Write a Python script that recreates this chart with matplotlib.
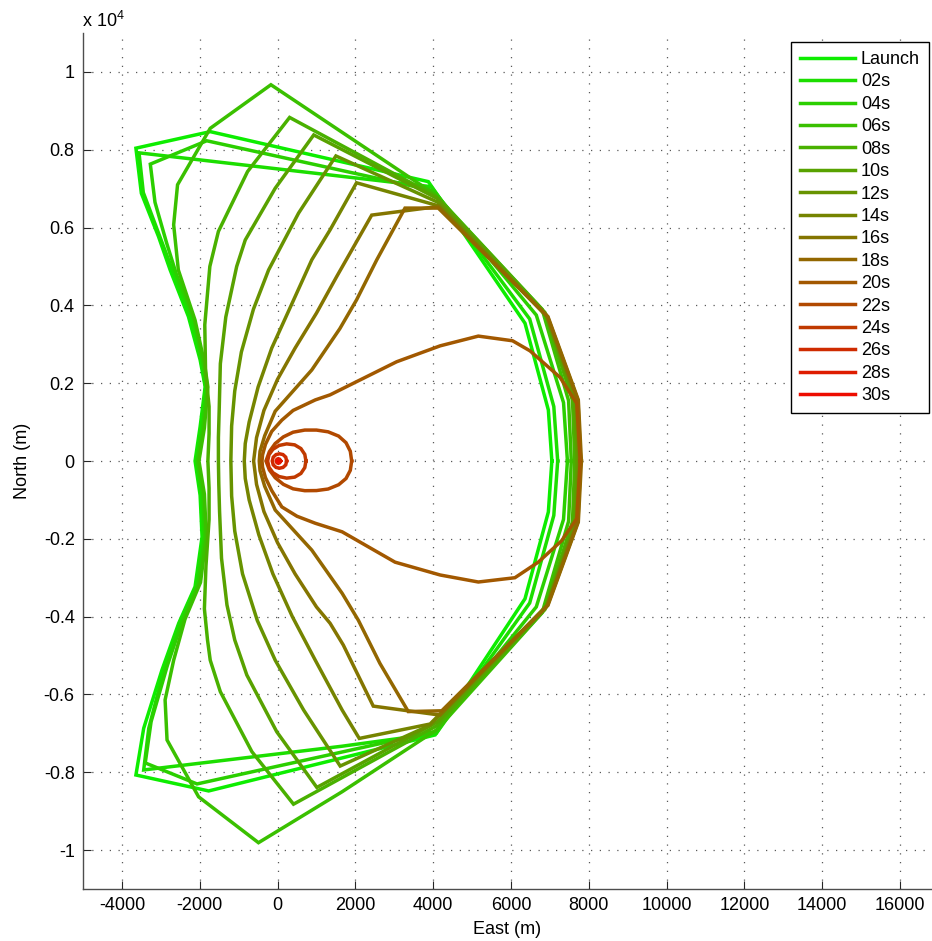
import matplotlib
matplotlib.use("Agg")
import matplotlib.pyplot as plt

plt.rcParams['font.family'] = ['Liberation Sans', 'DejaVu Sans']
plt.rcParams['mathtext.fontset'] = 'custom'
plt.rcParams['mathtext.rm'] = 'Liberation Sans'

# footprint outlines (East, North) in metres
launch = [(7050, 0), (6960, 1310), (6360, 3540), (3875, 7180), (-1730, 8465), (-3640, 8040),
          (-3500, 6880), (-3060, 5770), (-2760, 4910), (-2290, 3710), (-1990, 2600), (-1860, 1910),
          (-1990, 880), (-2120, 0), (-1990, -880), (-1940, -1950), (-2120, -3230), (-2540, -4170),
          (-2970, -5370), (-3440, -6870), (-3640, -8070), (-1770, -8480), (4050, -7040),
          (6360, -3540), (6960, -1310), (7050, 0)]
t02 = [(7200, 0), (7100, 1400), (6480, 3650), (3950, 7050), (-3560, 7920), (-3450, 6900),
       (-3000, 5700), (-2680, 4850), (-2230, 3680), (-1960, 2580), (-1850, 1900), (-1960, 860),
       (-2090, 0), (-1960, -860), (-1910, -1950), (-2090, -3210), (-2510, -4150), (-2900, -5300),
       (-3310, -6870), (-3440, -7940), (1660, -7330), (4080, -7000), (6480, -3650), (7100, -1400),
       (7200, 0)]
t04 = [(7450, 0), (7350, 1500), (6650, 3750), (4000, 6950), (-1820, 8230), (-3270, 7630),
       (-3150, 6650), (-2850, 5600), (-2600, 4800), (-2150, 3650), (-1920, 2550), (-1820, 1900),
       (-1920, 850), (-2060, 0), (-1920, -850), (-1870, -1950), (-2040, -3180), (-2450, -4120),
       (-2830, -5250), (-3250, -6700), (-3400, -7760), (-2070, -8300), (4060, -6950),
       (6650, -3750), (7350, -1500), (7450, 0)]
t06 = [(7550, 0), (7480, 1550), (6800, 3900), (4050, 6850), (-170, 9670), (-1730, 8550),
       (-2570, 7100), (-2670, 6070), (-2550, 4910), (-2120, 3620), (-1880, 2530), (-1790, 1900),
       (-1880, 850), (-2020, 0), (-1880, -850), (-1830, -1950), (-1980, -3120), (-2380, -4070),
       (-2670, -5120), (-2890, -6140), (-2840, -7170), (-2030, -8630), (-490, -9810),
       (1660, -8500), (4100, -6900), (6800, -3900), (7480, -1550), (7550, 0)]
t08 = [(7640, 0), (7580, 1560), (6870, 3820), (4080, 6800), (310, 8830), (-770, 7440),
       (-1520, 5900), (-1740, 5000), (-1870, 3500), (-1850, 2300), (-1760, 1400), (-1760, 700),
       (-1790, 0), (-1760, -700), (-1760, -1500), (-1840, -2700), (-1880, -3800), (-1800, -4600),
       (-1730, -5120), (-1470, -5930), (-660, -7470), (410, -8820), (4100, -6800), (6870, -3820),
       (7580, -1560), (7640, 0)]
t10 = [(7700, 0), (7640, 1560), (6900, 3760), (4100, 6750), (930, 8380), (-60, 7010),
       (-830, 5680), (-1050, 5000), (-1330, 3700), (-1470, 2500), (-1500, 1300), (-1520, 600),
       (-1520, 0), (-1510, -600), (-1490, -1300), (-1440, -2500), (-1300, -3700), (-1100, -4600),
       (-920, -5120), (-790, -5500), (-20, -6960), (1010, -8390), (4120, -6700), (6900, -3760),
       (7640, -1560), (7700, 0)]
t12 = [(7740, 0), (7680, 1560), (6920, 3720), (4120, 6650), (1500, 7840), (540, 6370),
       (-230, 4910), (-620, 3900), (-930, 2800), (-1100, 1800), (-1180, 900), (-1200, 0),
       (-1180, -900), (-1100, -1800), (-900, -2900), (-520, -4100), (-60, -5120), (670, -6400),
       (1610, -7840), (3920, -6790), (6920, -3720), (7680, -1560), (7740, 0)]
t14 = [(7770, 0), (7710, 1565), (6930, 3710), (4130, 6560), (2030, 7150), (1350, 5940),
       (880, 5170), (350, 4000), (-150, 2900), (-500, 1900), (-730, 1000), (-830, 450),
       (-855, 0), (-830, -450), (-730, -1000), (-480, -1900), (-120, -2900), (380, -4000),
       (970, -5120), (1660, -6400), (2100, -7130), (3920, -6760), (6930, -3710), (7710, -1565),
       (7770, 0)]
t16 = [(7790, 0), (7720, 1567), (6940, 3710), (4130, 6540), (2420, 6320), (1520, 4740),
       (1000, 3800), (450, 2900), (0, 2100), (-350, 1300), (-540, 600), (-615, 0),
       (-540, -600), (-350, -1300), (0, -2100), (450, -2900), (1000, -3750), (1350, -4170),
       (1690, -4730), (2460, -6300), (4175, -6530), (6940, -3710), (7720, -1567), (7790, 0)]
t18 = [(7810, 0), (7730, 1568), (6950, 3710), (4131, 6500), (3275, 6500), (2550, 5170),
       (2030, 4140), (1600, 3400), (880, 2340), (-60, 1280), (-330, 650), (-450, 250),
       (-470, 0), (-450, -250), (-330, -650), (-60, -1260), (880, -2290), (1660, -3400),
       (2075, -4090), (2630, -5200), (3360, -6440), (4220, -6420), (6950, -3710), (7730, -1568),
       (7810, 0)]
t20 = [(7780, 0), (7690, 1480), (7260, 2150), (6490, 2830), (6040, 3090), (5160, 3210),
       (4180, 2960), (3060, 2550), (1350, 1700), (970, 1570), (400, 1300), (110, 1050),
       (-150, 760), (-310, 430), (-385, 160), (-400, 0), (-385, -160), (-310, -430),
       (-150, -760), (110, -1180), (500, -1420), (970, -1600), (1660, -1820), (3020, -2600),
       (4180, -2930), (5160, -3110), (6100, -3000), (6700, -2600), (7300, -2050), (7690, -1480),
       (7780, 0)]
t22 = [(1905, 0), (1870, 250), (1760, 470), (1570, 640), (1300, 750), (1000, 795), (700, 795),
       (400, 740), (150, 620), (-60, 450), (-210, 240), (-298, 0), (-210, -230), (-60, -430),
       (150, -600), (400, -715), (700, -763), (1000, -760), (1300, -720), (1570, -610),
       (1760, -450), (1870, -240), (1905, 0)]
t24 = [(730, 0), (700, 170), (600, 320), (440, 415), (234, 440), (40, 400), (-120, 300),
       (-220, 160), (-255, 0), (-220, -160), (-120, -300), (40, -400), (234, -440), (440, -415),
       (600, -320), (700, -170), (730, 0)]
t26 = [(234, 0), (210, 100), (140, 165), (50, 185), (-40, 165), (-110, 100), (-136, 0),
       (-110, -100), (-40, -165), (50, -185), (140, -165), (210, -100), (234, 0)]
t28 = [(80, 0), (55, 45), (20, 60), (-15, 45), (-35, 0), (-15, -45), (20, -60), (55, -45), (80, 0)]
t30 = [(35, 0), (20, 15), (5, 0), (20, -15), (35, 0)]

labels = ['Launch', '02s', '04s', '06s', '08s', '10s', '12s', '14s', '16s', '18s',
          '20s', '22s', '24s', '26s', '28s', '30s']
curves = [launch, t02, t04, t06, t08, t10, t12, t14, t16, t18, t20, t22, t24, t26, t28, t30]

xticks = list(range(-4000, 16001, 2000))
yticks = [-1, -0.8, -0.6, -0.4, -0.2, 0, 0.2, 0.4, 0.6, 0.8, 1]
ytick_labels = ['-1', '-0.8', '-0.6', '-0.4', '-0.2', '0', '0.2', '0.4', '0.6', '0.8', '1']

fig = plt.figure(figsize=(9.32, 9.41), dpi=100)
ax = fig.add_axes([83 / 932, 52 / 941, 849 / 932, 856 / 941])

n = len(curves)
for i, (pts, lab) in enumerate(zip(curves, labels)):
    t = i / (n - 1)
    col = (0.05 + 0.88 * t, 0.93 - 0.88 * t, 0.0)
    xs = [p[0] for p in pts]
    ys = [p[1] for p in pts]
    ax.plot(xs, ys, color=col, lw=2.5, label=lab, solid_joinstyle='miter')

ax.set_xlim(-5000, 16820)
ax.set_ylim(-11000, 11000)
ax.set_xticks(xticks)
ax.set_xticklabels([str(v) for v in xticks])
ax.set_yticks([v * 1e4 for v in yticks])
ax.set_yticklabels(ytick_labels)
ax.tick_params(direction='in', length=6, width=0.8, labelsize=13, colors='0.15',
               labelcolor='black', pad=6)
for s in ['top', 'right']:
    ax.spines[s].set_visible(False)
for s in ['left', 'bottom']:
    ax.spines[s].set_color('0.3')
    ax.spines[s].set_linewidth(1.0)
ax.grid(True, color='0.35', linestyle=(0, (1, 6)), linewidth=0.9)
ax.set_axisbelow(True)

ax.set_xlabel('East (m)', fontsize=13, labelpad=5)
ax.set_ylabel('North (m)', fontsize=13, labelpad=9)
fig.text(82 / 932, 1 - 27 / 941, 'x 10$^{4}$', fontsize=13, ha='left', va='baseline')

leg = ax.legend(loc='upper right', bbox_to_anchor=(929 / 932, 1 - 42 / 941),
                bbox_transform=fig.transFigure, fontsize=13, handlelength=3.0,
                handletextpad=0.35, labelspacing=0.3, borderpad=0.5, borderaxespad=0,
                fancybox=False, framealpha=1)
leg.get_frame().set_edgecolor('black')
leg.get_frame().set_linewidth(1.0)

fig.savefig('out.png', dpi=100)
